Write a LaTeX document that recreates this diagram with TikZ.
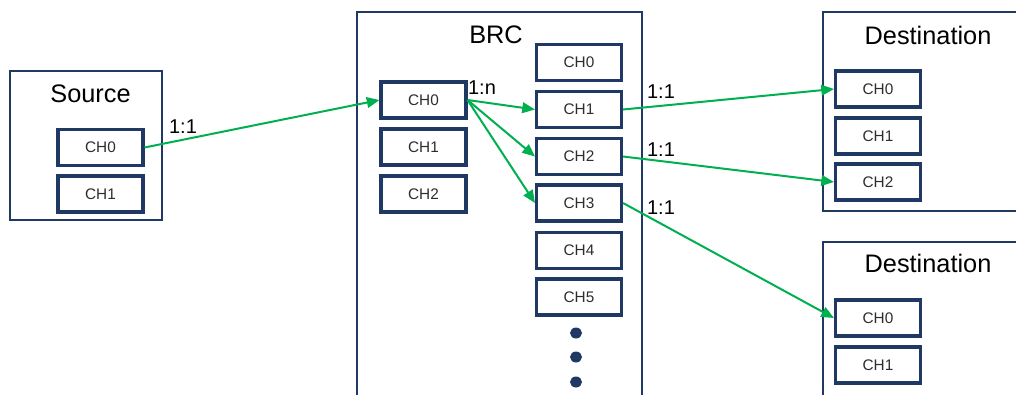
\documentclass[tikz,border=0pt]{standalone}
\usepackage{fontspec}
\setmainfont{Liberation Sans}
\usetikzlibrary{arrows.meta}

\definecolor{boxblue}{RGB}{31,56,100}
\definecolor{linkgreen}{RGB}{0,176,80}
\definecolor{chtext}{RGB}{45,45,45}

\begin{document}
\begin{tikzpicture}[x=0.75pt, y=-0.75pt]

\pgfmathsetlengthmacro{\chWidth}{85*0.75pt}
\pgfmathsetlengthmacro{\chHeight}{36*0.75pt}
\tikzset{
  unit/.style={draw=boxblue, line width=2.2pt, inner sep=0pt, fill=white},
  ch/.style={draw=boxblue, line width=2.3pt, minimum width=\chWidth, minimum height=\chHeight, inner sep=0pt, fill=white, text=chtext, font=\fontsize{11.5}{13}\selectfont},
  title/.style={inner sep=0pt, font=\fontsize{19}{22}\selectfont},
  ratio/.style={inner sep=0pt, font=\fontsize{15}{17}\selectfont},
  link/.style={draw=linkgreen, line width=1.5pt, -{Triangle[length=9.5pt, width=8pt]}},
}

\useasboundingbox (0,0) rectangle (1016,394);
\clip (0,0) rectangle (1016,394);

% source
\node[unit, minimum width=152*0.75pt, minimum height=149*0.75pt, name=src] at (86,145.5) {};
\node[title, name=srcTitle] at (90.5,93.5) {Source};
\node[ch, name=srcCh0] at (100.5,147.5) {CH0};
\node[ch, name=srcCh1] at (100.5,194) {CH1};

% brc
\node[unit, minimum width=285*0.75pt, minimum height=420*0.75pt, name=brc] at (499.5,222) {};
\node[title, name=brcTitle] at (496,35) {BRC};
\node[ch, name=brcIn0] at (423.5,100) {CH0};
\node[ch, name=brcIn1] at (423.5,147) {CH1};
\node[ch, name=brcIn2] at (423.5,194) {CH2};
\node[ch, name=brcOut0] at (579,62.5) {CH0};
\node[ch, name=brcOut1] at (579,109.5) {CH1};
\node[ch, name=brcOut2] at (579,156.5) {CH2};
\node[ch, name=brcOut3] at (579,203) {CH3};
\node[ch, name=brcOut4] at (579,250.5) {CH4};
\node[ch, name=brcOut5] at (579,297) {CH5};
\foreach \y in {333,357,382}
  \fill[boxblue] (576,\y) ellipse (6 and 5.5);

% destinations
\node[unit, minimum width=220*0.75pt, minimum height=199*0.75pt, name=dstA] at (933,111.5) {};
\node[title, name=dstATitle] at (928,35.5) {Destination};
\node[ch, name=dstACh0] at (878,89) {CH0};
\node[ch, name=dstACh1] at (878,136) {CH1};
\node[ch, name=dstACh2] at (878,182) {CH2};

\node[unit, minimum width=220*0.75pt, minimum height=200*0.75pt, name=dstB] at (933,342) {};
\node[title, name=dstBTitle] at (928,263.5) {Destination};
\node[ch, name=dstBCh0] at (878,318) {CH0};
\node[ch, name=dstBCh1] at (878,365) {CH1};

% links
\draw[link] (srcCh0.east) -- (brcIn0.west);
\draw[link] (brcIn0.east) -- (brcOut1.west);
\draw[link] (brcIn0.east) -- (brcOut2.west);
\draw[link] (brcIn0.east) -- (brcOut3.west);
\draw[link] (brcOut1.east) -- (dstACh0.west);
\draw[link] (brcOut2.east) -- (dstACh2.west);
\draw[link] (brcOut3.east) -- (dstBCh0.west);

\node[ratio, name=srcRatio] at (183,126.5) {1:1};
\node[ratio, name=fanRatio] at (482,87.5) {1:n};
\node[ratio, name=outRatio1] at (661,92) {1:1};
\node[ratio, name=outRatio2] at (661,149.5) {1:1};
\node[ratio, name=outRatio3] at (661,207.5) {1:1};

\end{tikzpicture}
\end{document}
